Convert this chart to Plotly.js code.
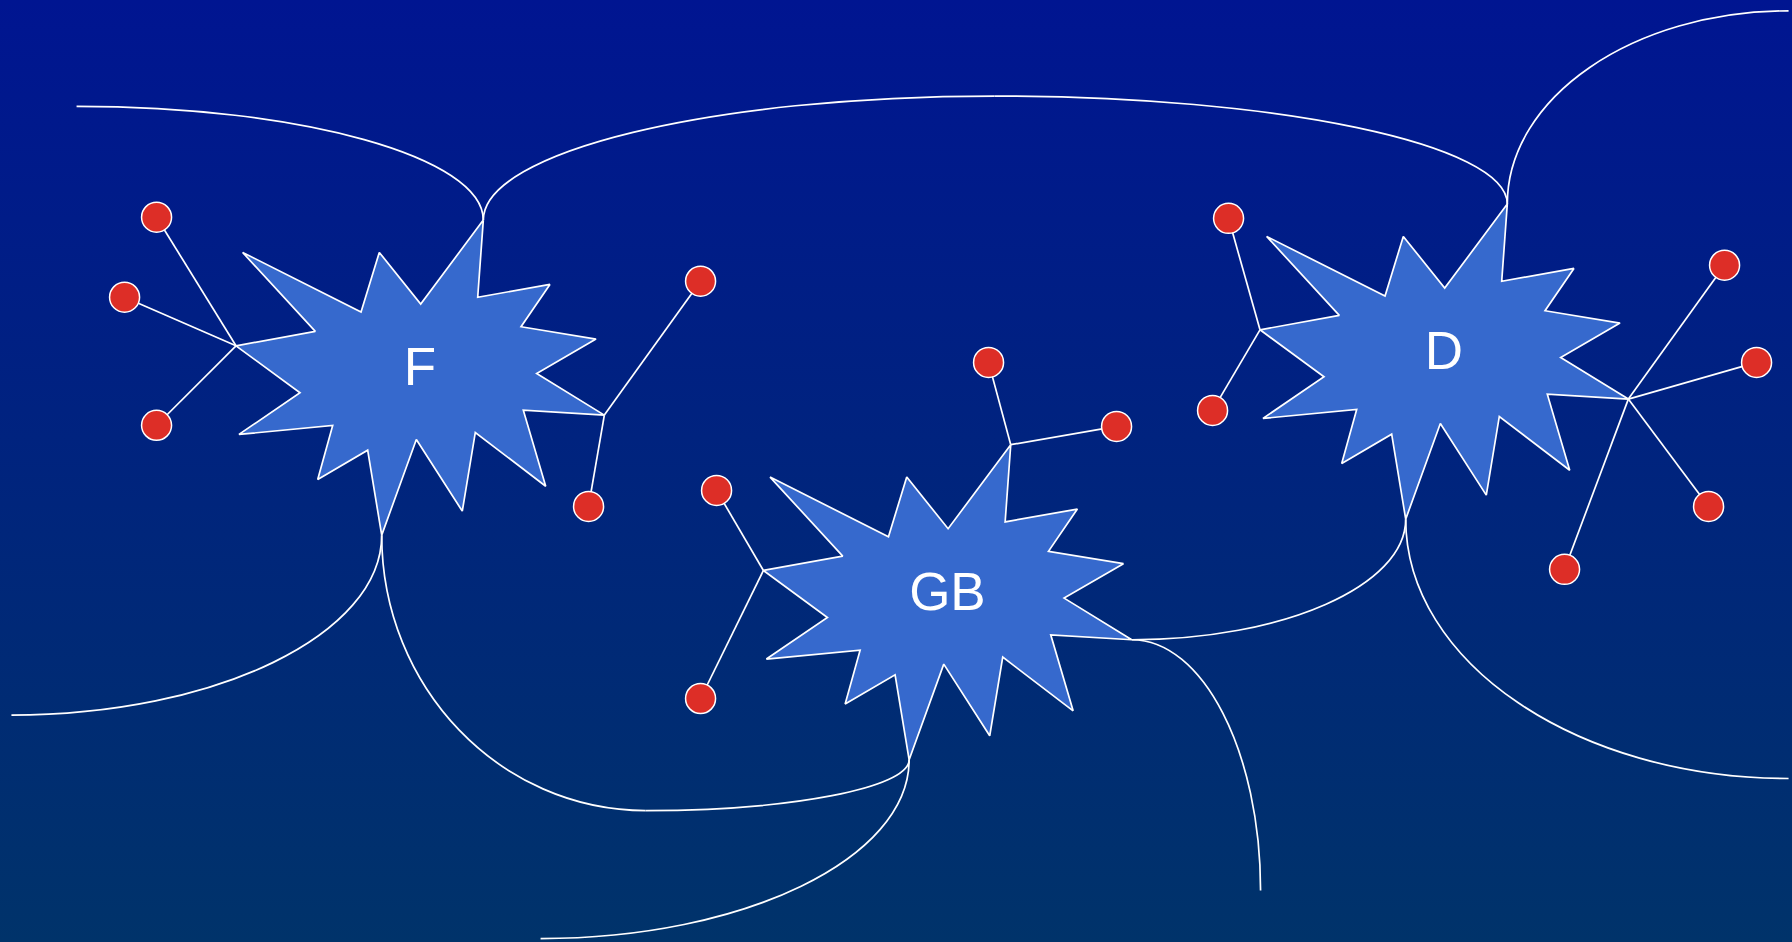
<!DOCTYPE html>
<html><head><meta charset="utf-8">
<script src="https://cdn.plot.ly/plotly-3.0.1.min.js"></script>
<style>
html,body{margin:0;padding:0;overflow:hidden;}
body{width:1792px;height:942px;background:linear-gradient(to bottom,#001591 0%,#00336a 100%);}
#chart{width:1792px;height:942px;}
</style></head>
<body><div id="chart"></div>
<script>
// ---- data (in reference-image units, 1568 x 824 canvas) ----
const starLabels   = ['F', 'GB', 'D'];
const starCenterX  = [367.5, 829, 1263.5];
const starCenterY  = [323, 519.5, 309];
// outline of the 12-point burst, relative to its centre (clockwise from the top tip)
const burstDX = [55.4, 50.5, 113.7, 88.4, 154, 102.1, 161.3, 90.4, 110, 48.4, 37, -3.2,
                 -33.5, -45.8, -89.5, -76.4, -158.4, -105, -161, -91.6, -155.2, -51.6, -35.6, 0.6];
const burstDY = [-130.5, -63, -74.2, -37.2, -26.4, 3.7, 40.1, 35.8, 102.3, 55.3, 124.1, 61.4,
                 145.1, 70.8, 96.4, 49.2, 57, 20.6, -20.5, -33.1, -102.2, -50, -102.2, -57];
const tipIndex = {top: 0, right: 6, bottom: 12, left: 18};

// label positions
const labelX = [367.5, 829, 1263.5];
const labelY = [325.5, 522, 311.5];

// satellite nodes: which star, which tip they hang from, and their position
const dotStar = [0, 0, 0, 0, 0, 1, 1, 1, 1, 2, 2, 2, 2, 2, 2];
const dotTip  = ['left','left','left','right','right','left','left','top','top',
                 'left','left','right','right','right','right'];
const dotX = [137, 109, 137, 613, 515, 627, 613, 865, 977, 1075, 1061, 1509, 1537, 1495, 1369];
const dotY = [190, 260, 372, 246, 443, 429, 611, 317, 373, 191, 359, 232, 317, 443, 498];

// links (quarter-ellipse curves): from, to, starting direction
const curveFrom = [[67, 93], 'F.top', [870, 84], 'D.top', 'F.bottom', 'F.bottom', [565, 709],
                   'GB.bottom', 'GB.right', 'GB.right', 'D.bottom'];
const curveTo   = ['F.top', [870, 84], 'D.top', [1565, 9.5], [10, 625.5], [565, 709], 'GB.bottom',
                   [473, 821], 'D.bottom', [1103, 779], [1565, 681]];
const curveDir  = ['h', 'v', 'h', 'v', 'v', 'v', 'h', 'v', 'h', 'h', 'v'];

// ---- helpers ----
function tip(s, name) {
  const i = tipIndex[name];
  return [starCenterX[s] + burstDX[i], starCenterY[s] + burstDY[i]];
}
function pt(ref) {
  if (Array.isArray(ref)) return ref;
  const [lab, name] = ref.split('.');
  return tip(starLabels.indexOf(lab), name);
}

const traces = [];
// stars
starLabels.forEach((lab, s) => {
  const xs = burstDX.map(d => starCenterX[s] + d);
  const ys = burstDY.map(d => starCenterY[s] + d);
  xs.push(xs[0]); ys.push(ys[0]);
  traces.push({type: 'scatter', mode: 'lines', x: xs, y: ys, fill: 'toself',
    fillcolor: '#3669cd', line: {color: '#ffffff', width: 1.7}, hoverinfo: 'skip', showlegend: false});
});
// spokes
const lx = [], ly = [];
dotX.forEach((x, i) => {
  const h = tip(dotStar[i], dotTip[i]);
  lx.push(h[0], x, null); ly.push(h[1], dotY[i], null);
});
traces.push({type: 'scatter', mode: 'lines', x: lx, y: ly,
  line: {color: '#ffffff', width: 1.7}, hoverinfo: 'skip', showlegend: false});
// dots
traces.push({type: 'scatter', mode: 'markers', x: dotX, y: dotY,
  marker: {size: 30, color: '#dd2e27', line: {color: '#ffffff', width: 1.5}},
  hoverinfo: 'skip', showlegend: false});
// labels
traces.push({type: 'scatter', mode: 'text', x: labelX, y: labelY, text: starLabels,
  textposition: 'middle center',
  textfont: {family: 'Liberation Sans, Arial, sans-serif', size: 53, color: '#ffffff'},
  hoverinfo: 'skip', showlegend: false});

// curves as shapes
const k = 0.5523;
const shapes = curveFrom.map((f, i) => {
  const [x0, y0] = pt(f), [x1, y1] = pt(curveTo[i]);
  let c1, c2;
  if (curveDir[i] === 'h') { c1 = [x0 + k * (x1 - x0), y0]; c2 = [x1, y1 - k * (y1 - y0)]; }
  else { c1 = [x0, y0 + k * (y1 - y0)]; c2 = [x1 - k * (x1 - x0), y1]; }
  return {type: 'path', xref: 'x', yref: 'y', layer: 'below',
    path: `M ${x0},${y0} C ${c1[0]},${c1[1]} ${c2[0]},${c2[1]} ${x1},${y1}`,
    line: {color: '#ffffff', width: 1.7}};
});

const layout = {
  width: 1792, height: 942,
  margin: {l: 0, r: 0, t: 0, b: 0, pad: 0},
  paper_bgcolor: 'rgba(0,0,0,0)', plot_bgcolor: 'rgba(0,0,0,0)',
  xaxis: {range: [0, 1568], visible: false, fixedrange: true},
  yaxis: {range: [824, 0], visible: false, fixedrange: true},
  shapes: shapes, showlegend: false
};
Plotly.newPlot('chart', traces, layout, {staticPlot: true, displayModeBar: false});
</script>
</body></html>
